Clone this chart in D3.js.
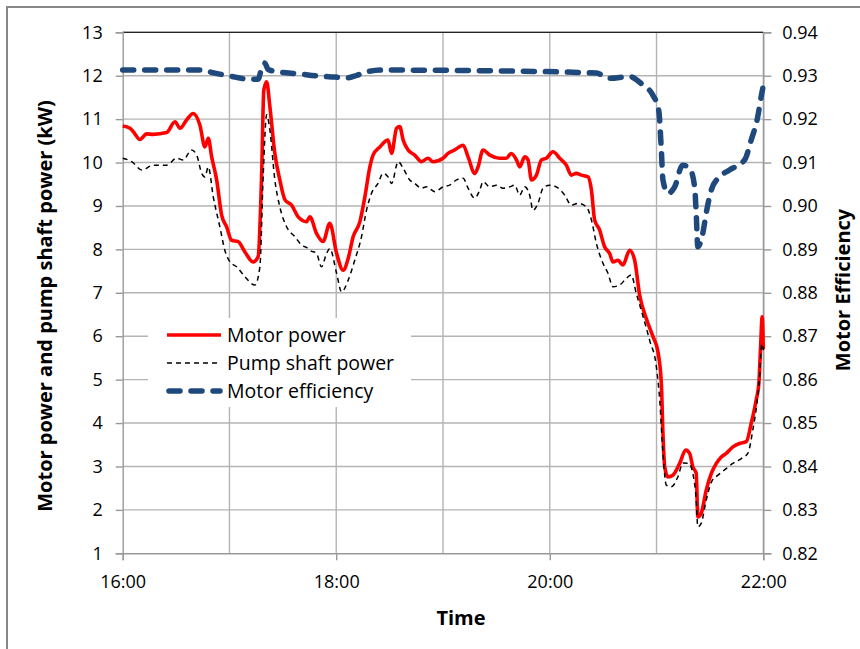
<!DOCTYPE html>
<html>
<head>
<meta charset="utf-8">
<script src="https://cdn.jsdelivr.net/npm/d3@7"></script>
<style>
  body { margin: 0; background: #fff; }
  text { font-family: "Open Sans", sans-serif; fill: #000; }
</style>
</head>
<body>
<div id="chart"></div>
<script>
// minutes after 16:00
const motorT = [0, 4.1, 6.0, 9.7, 13.5, 17, 24.7, 29.4, 32.2, 35.9, 39.6, 43.4, 46.2, 48.1, 50.0, 52.8, 55.6, 58.4, 61.2, 64.9,
  68.7, 73.3, 76.1, 78.1, 79.3, 80.9, 82.7, 85.5, 88.3, 91.2, 94.9, 98.6, 103.3, 105.2, 108.9, 112.6, 116.4, 120.2, 123.9, 126.7,
  129.5, 133.3, 136.1, 138.9, 140.7, 144.5, 149.1, 151.1, 153.9, 155.7, 157.6, 160.4, 164.1, 167.9, 171.6, 174.4, 180.0, 182.8, 186.6, 191.3,
  194.1, 197.8, 199.7, 202.5, 206.3, 211.9, 215.6, 218.4, 221.3, 223.1, 225.9, 227.8, 229.7, 232.5, 235.3, 238.1, 241.8, 245.6, 249.3, 252.1,
  254.9, 257.8, 261.5, 263.4, 265.2, 268.0, 270.8, 273.6, 275.5, 278.3, 281.1, 284.9, 287.7, 290.5, 294.3, 298.0, 300.8, 302.7, 303.6, 304.6,
  306.4, 309.2, 313.0, 316.4, 318.6, 320.4, 322.3, 323.2, 325.1, 327.9, 330.8, 333.6, 336.4, 339.2, 342.9, 346.6, 350.4, 353.2, 356.0, 357.5,
  358.4, 359.4, 360];
const motorKW = [10.84, 10.79, 10.71, 10.53, 10.66, 10.65, 10.69, 10.94, 10.79, 10.98, 11.13, 10.86, 10.36, 10.56, 10.13, 9.6, 8.79, 8.52, 8.21, 8.18,
  7.94, 7.71, 7.83, 9.75, 11.67, 11.86, 11.29, 10.21, 9.6, 9.14, 9.02, 8.75, 8.64, 8.75, 8.37, 8.18, 8.6, 7.91, 7.52, 7.79,
  8.29, 8.64, 9.21, 9.9, 10.17, 10.36, 10.52, 10.21, 10.79, 10.83, 10.52, 10.29, 10.17, 10.02, 10.1, 10.02, 10.1, 10.21, 10.29, 10.4,
  10.13, 9.75, 9.9, 10.29, 10.17, 10.1, 10.1, 10.21, 10.06, 9.9, 10.13, 10.06, 9.6, 9.71, 10.06, 10.1, 10.25, 10.1, 9.94, 9.71,
  9.75, 9.71, 9.67, 9.37, 8.68, 8.45, 8.06, 7.91, 7.71, 7.75, 7.64, 7.98, 7.75, 6.95, 6.4, 5.99, 5.64, 4.91, 3.76, 2.99,
  2.76, 2.8, 3.07, 3.38, 3.3, 2.99, 2.84, 1.84, 1.92, 2.45, 2.84, 3.07, 3.22, 3.3, 3.45, 3.53, 3.57, 3.99, 4.53, 4.91,
  5.68, 6.45, 5.7];

const pumpT = [0, 5.1, 10.7, 17.2, 24.7, 30.3, 34.0, 38.7, 41.6, 44.4, 46.2, 48.1, 50.9, 54.6, 57.4, 60.3, 64.0, 68.7, 74.3, 77.1,
  79.0, 80.9, 82.7, 85.5, 88.3, 92.1, 96.8, 100.5, 104.2, 105.2, 108.9, 111.7, 114.6, 116.4, 120.2, 123.0, 126.7, 130.4, 134.2, 137.0,
  139.8, 143.5, 146.3, 149.1, 151.1, 154.8, 157.6, 161.3, 164.1, 167.9, 170.7, 175.4, 180.0, 183.8, 187.6, 191.3, 194.1, 197.8, 200.7, 202.5,
  206.3, 210.0, 213.7, 217.5, 220.3, 223.1, 225.9, 228.7, 230.6, 233.4, 236.2, 240.0, 243.7, 248.4, 252.1, 255.8, 260.6, 263.4, 266.2, 269.9,
  272.7, 275.5, 279.3, 283.0, 285.8, 288.6, 291.4, 296.1, 299.9, 301.8, 303.6, 305.5, 308.3, 312.0, 314.8, 318.2, 320.4, 322.3, 323.2, 325.1,
  327.9, 330.8, 334.5, 338.2, 342.9, 347.6, 351.3, 354.1, 356.4, 357.9, 359.2, 360];
const pumpKW = [10.1, 10.02, 9.83, 9.94, 9.94, 10.1, 10.06, 10.29, 10.17, 9.75, 9.67, 9.9, 9.21, 8.52, 7.98, 7.71, 7.6, 7.37, 7.18, 7.6,
  9.75, 11.1, 10.75, 9.6, 8.98, 8.52, 8.29, 8.1, 8.02, 7.98, 7.91, 7.6, 7.91, 8.02, 7.45, 7.02, 7.29, 7.75, 8.29, 8.9,
  9.29, 9.52, 9.75, 9.67, 9.52, 10.02, 9.87, 9.6, 9.52, 9.41, 9.44, 9.33, 9.44, 9.48, 9.6, 9.64, 9.41, 9.18, 9.37, 9.56,
  9.44, 9.48, 9.41, 9.44, 9.48, 9.25, 9.44, 9.25, 8.9, 9.06, 9.41, 9.48, 9.44, 9.25, 9.02, 9.06, 8.98, 8.68, 8.14, 7.68,
  7.45, 7.14, 7.18, 7.33, 7.41, 6.99, 6.6, 5.91, 5.3, 4.53, 3.3, 2.57, 2.53, 2.76, 3.08, 3.07, 2.84, 2.22, 1.61, 1.69,
  2.22, 2.64, 2.8, 2.92, 3.07, 3.18, 3.3, 3.84, 4.45, 5.06, 5.83, 5.68];

const effT = [0, 43.4, 51.8, 60.3, 71.5, 76, 78.2, 79.9, 81.6, 84.4, 99.6, 110.8, 119.2, 126.0, 131.6, 137.2, 146.2, 211.9, 266.3, 273.6,
  284.9, 292.2, 297.8, 301.2, 302.7, 303.6, 306.4, 310.2, 314.6, 318.6, 321.4, 322.3, 323.2, 326.0, 327.9, 330.8, 335.4, 341.0, 349.5, 353.2,
  356.9, 358.8, 359.7];
const eff = [0.9313, 0.9313, 0.9306, 0.9299, 0.9292, 0.9292, 0.9318, 0.9329, 0.9315, 0.9311, 0.9304, 0.9299, 0.9297, 0.9295, 0.9301, 0.9309, 0.9313, 0.9311, 0.9306, 0.9294,
  0.9298, 0.9279, 0.9256, 0.9221, 0.9129, 0.906, 0.9029, 0.9044, 0.9094, 0.9087, 0.9044, 0.8983, 0.8906, 0.8937, 0.8983, 0.9037, 0.9067, 0.9083, 0.9106, 0.9152,
  0.9206, 0.9252, 0.9271];

const kwTicks = [1, 2, 3, 4, 5, 6, 7, 8, 9, 10, 11, 12, 13];
const effTicks = [0.82, 0.83, 0.84, 0.85, 0.86, 0.87, 0.88, 0.89, 0.90, 0.91, 0.92, 0.93, 0.94];
const hourGrid = [60, 120, 180, 240, 300, 360];
const timeTicks = [0, 120, 240, 360];
const timeLabels = ["16:00", "18:00", "20:00", "22:00"];
const seriesNames = ["Motor power", "Pump shaft power", "Motor efficiency"];

const W = 860, H = 649;
const svg = d3.select("#chart").append("svg")
    .attr("width", W)
    .attr("height", H);

// chart area frame
svg.append("path")
    .attr("d", `M7,${H} V7 H${W}`)
    .attr("fill", "none")
    .attr("stroke", "#878787")
    .attr("stroke-width", 2);

const x = d3.scaleLinear().domain([0, 360]).range([122.7, 763.3]);
const yL = d3.scaleLinear().domain([1, 13]).range([553.3, 32.3]);
const yR = d3.scaleLinear().domain([0.82, 0.94]).range([553.3, 32.3]);

const gridColor = "#b4b4b4";

// horizontal grid
svg.append("g").selectAll("line")
  .data(kwTicks.slice(1))
  .join("line")
    .attr("x1", x(0)).attr("x2", x(360))
    .attr("y1", d => yL(d)).attr("y2", d => yL(d))
    .attr("stroke", gridColor)
    .attr("stroke-width", 1.4);

// vertical grid
svg.append("g").selectAll("line")
  .data(hourGrid)
  .join("line")
    .attr("x1", d => x(d)).attr("x2", d => x(d))
    .attr("y1", yL(13)).attr("y2", yL(1))
    .attr("stroke", gridColor)
    .attr("stroke-width", 1.4);

// top border of plot
svg.append("line")
    .attr("x1", x(0)).attr("x2", x(360))
    .attr("y1", yL(13)).attr("y2", yL(13))
    .attr("stroke", "#000")
    .attr("stroke-width", 1);

function styleAxis(g) {
  g.select(".domain").attr("stroke", "#999").attr("stroke-width", 1.4);
  g.selectAll(".tick line").attr("stroke", "#999").attr("stroke-width", 1.4);
  g.selectAll(".tick text")
    .style("font-family", "'Open Sans', sans-serif")
    .style("font-size", "18px")
    .attr("fill", "#000");
}

svg.append("g")
    .attr("transform", `translate(${x(0)},0)`)
    .call(d3.axisLeft(yL).tickValues(kwTicks).tickSizeOuter(0).tickSize(7).tickPadding(13).tickFormat(d3.format("d")))
    .call(styleAxis);

svg.append("g")
    .attr("transform", `translate(${x(360)},0)`)
    .call(d3.axisRight(yR).tickValues(effTicks).tickSizeOuter(0).tickSize(8).tickPadding(11).tickFormat(d3.format(".2f")))
    .call(styleAxis);

svg.append("g")
    .attr("transform", `translate(0,${yL(1)})`)
    .call(d3.axisBottom(x).tickValues(timeTicks).tickSizeOuter(0).tickSize(7).tickPadding(15)
      .tickFormat((d, i) => timeLabels[i]))
    .call(styleAxis);

// lines
const lineL = d3.line().x(d => x(d[0])).y(d => yL(d[1])).curve(d3.curveMonotoneX);
const lineR = d3.line().x(d => x(d[0])).y(d => yR(d[1])).curve(d3.curveMonotoneX);

svg.append("path")
    .datum(d3.zip(motorT, motorKW))
    .attr("d", lineL)
    .attr("fill", "none")
    .attr("stroke", "#ff0000")
    .attr("stroke-width", 3.6)
    .attr("stroke-linejoin", "round");

svg.append("path")
    .datum(d3.zip(pumpT, pumpKW))
    .attr("d", lineL)
    .attr("fill", "none")
    .attr("stroke", "#000")
    .attr("stroke-width", 1.5)
    .attr("stroke-dasharray", "5,4");

svg.append("path")
    .datum(d3.zip(effT, eff))
    .attr("d", lineR)
    .attr("fill", "none")
    .attr("stroke", "#1f497d")
    .attr("stroke-width", 5.5)
    .attr("stroke-linecap", "round")
    .attr("stroke-dasharray", "11,11");

// legend
const legend = svg.append("g");
legend.append("rect")
    .attr("x", 148).attr("y", 318)
    .attr("width", 263).attr("height", 89)
    .attr("fill", "#fff");

const rows = legend.selectAll("g")
  .data(seriesNames)
  .join("g")
    .attr("transform", (d, i) => `translate(0,${335 + i * 28})`);

rows.append("line")
    .attr("x1", (d, i) => i == 2 ? 169 : 167)
    .attr("x2", (d, i) => i == 2 ? 220 : 221)
    .attr("stroke", (d, i) => ["#ff0000", "#000", "#1f497d"][i])
    .attr("stroke-width", (d, i) => [3.6, 1.5, 5.5][i])
    .attr("stroke-linecap", (d, i) => i == 2 ? "round" : "butt")
    .attr("stroke-dasharray", (d, i) => [null, "5,4", "11,11"][i]);

rows.append("text")
    .attr("x", 227)
    .attr("dy", "0.35em")
    .style("font-size", "19.5px")
    .text(d => d);

// axis titles
svg.append("text")
    .attr("transform", "translate(45,306) rotate(-90)")
    .attr("text-anchor", "middle")
    .attr("dy", "0.35em")
    .style("font-size", "20px")
    .style("font-weight", "bold")
    .text("Motor power and pump shaft power (kW)");

svg.append("text")
    .attr("transform", "translate(843,290) rotate(-90)")
    .attr("text-anchor", "middle")
    .attr("dy", "0.35em")
    .style("font-size", "20px")
    .style("font-weight", "bold")
    .text("Motor Efficiency");

svg.append("text")
    .attr("x", 461)
    .attr("y", 625)
    .attr("text-anchor", "middle")
    .style("font-size", "20px")
    .style("font-weight", "bold")
    .text("Time");
</script>
</body>
</html>
